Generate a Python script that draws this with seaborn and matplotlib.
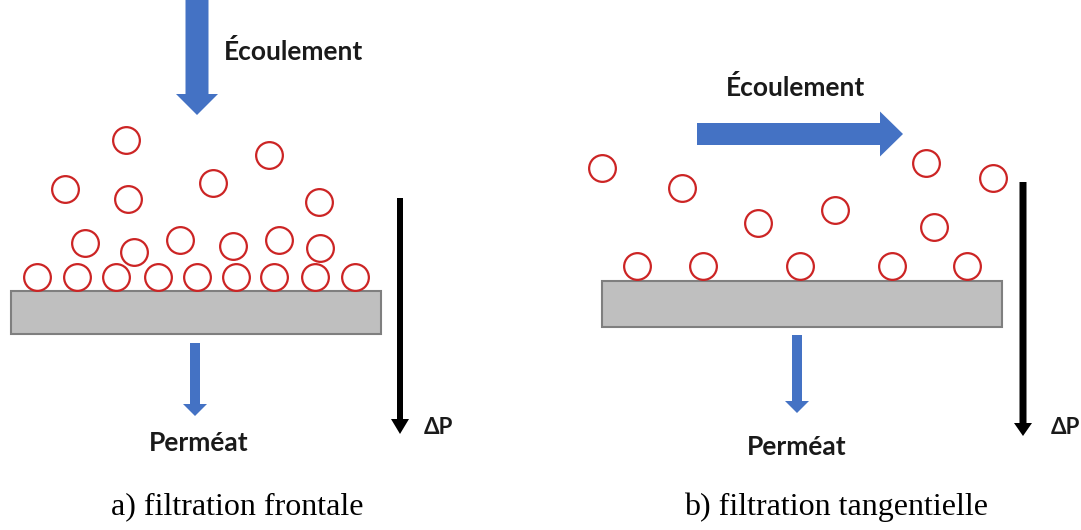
import numpy as np
import pandas as pd
import matplotlib.pyplot as plt
import seaborn as sns
from matplotlib.patches import Rectangle

sns.set_theme(style='white')

# particle centres (pixel frame of the figure, y downwards)
left_x = [126, 269, 65, 128, 213, 319, 85, 134, 180, 233, 279, 320,
          37, 77, 116, 158, 197, 236, 274, 315, 355]
left_y = [140, 155, 189, 199, 183, 202, 243, 252, 240, 246, 240, 248,
          277, 277, 277, 277, 277, 277, 277, 277, 277]
right_x = [602, 682, 758, 835, 926, 993, 934, 637, 703, 800, 892, 967]
right_y = [168, 188, 223, 210, 163, 178, 227, 266, 266, 266, 266, 266]

# membranes: x0, x1, y_top, y_bottom
membrane_left = [11, 381, 291, 334]
membrane_right = [602, 1002, 281, 327]

# arrows: x, y, dx, dy, width, head width, head length
flow_arrows = [
    [197, 0, 0, 115, 23, 42, 21],
    [697, 134, 206, 0, 22, 45, 23],
]
permeate_arrows = [
    [195, 343, 0, 73, 10, 24, 12],
    [797, 335, 0, 78, 10, 24, 12],
]
dp_arrows = [
    [400, 198, 0, 236, 6, 18, 15],
    [1023, 182, 0, 254, 7, 18, 13],
]

labels_flow = [('Écoulement', 294, 51), ('Écoulement', 796, 87)]
labels_perm = [('Perméat', 199, 443), ('Perméat', 797, 447)]
labels_dp = [('ΔP', 438, 428), ('ΔP', 1065, 428)]
captions = [('a) filtration frontale', 237, 507), ('b) filtration tangentielle', 836, 507)]

blue = '#4472C4'
red = '#CC2424'

fig = plt.figure(figsize=(10.81, 5.30), dpi=100)
ax = fig.add_axes([0, 0, 1, 1])

for m in [membrane_left, membrane_right]:
    ax.add_patch(Rectangle((m[0], m[2]), m[1] - m[0], m[3] - m[2],
                           facecolor='#BFBFBF', edgecolor='#7F7F7F', lw=1.5, zorder=1))

particles = pd.DataFrame({'x': left_x + right_x, 'y': left_y + right_y})
sns.scatterplot(data=particles, x='x', y='y', ax=ax, s=370, marker='o',
                facecolor='white', edgecolor=red, linewidth=1.6, zorder=3)

for a in flow_arrows + permeate_arrows:
    ax.arrow(a[0], a[1], a[2], a[3], width=a[4], head_width=a[5], head_length=a[6],
             length_includes_head=True, color=blue, lw=0, zorder=2)
for a in dp_arrows:
    ax.arrow(a[0], a[1], a[2], a[3], width=a[4], head_width=a[5], head_length=a[6],
             length_includes_head=True, color='black', lw=0, zorder=2)

for t, x, y in labels_flow + labels_perm:
    ax.text(x, y, t, ha='center', va='center', fontsize=19, fontweight='bold',
            family=['Lato', 'DejaVu Sans'], color='#1a1a1a')
for t, x, y in labels_dp:
    ax.text(x, y, t, ha='center', va='center', fontsize=16, fontweight='bold',
            family=['Lato', 'DejaVu Sans'], color='#1a1a1a')
for t, x, y in captions:
    ax.text(x, y, t, ha='center', va='center', fontsize=23,
            family='Liberation Serif', color='black')

ax.set_xlim(0, 1081)
ax.set_ylim(530, 0)
ax.set_xlabel('')
ax.set_ylabel('')
ax.set_axis_off()

fig.savefig('out.png', dpi=100)
